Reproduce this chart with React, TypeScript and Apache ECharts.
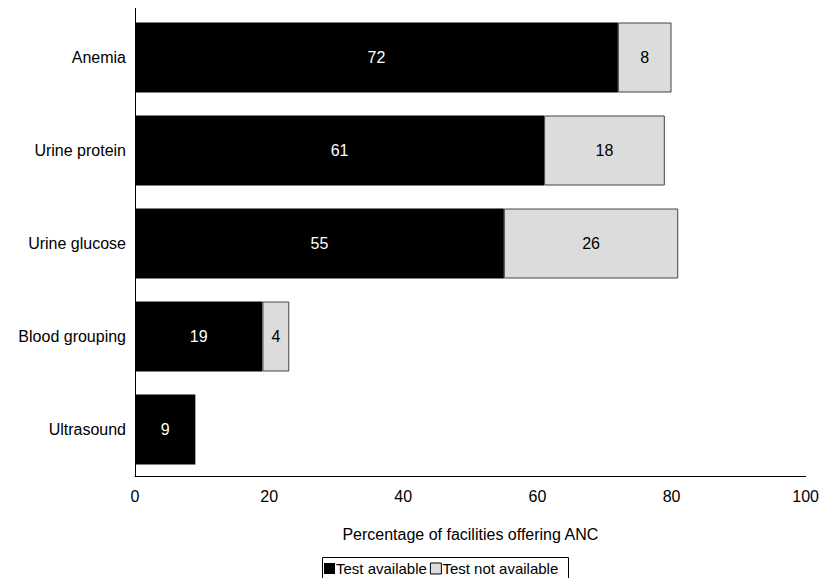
import React, { useEffect, useRef } from "react";
import * as echarts from "echarts";

const categories = ["Anemia", "Urine protein", "Urine glucose", "Blood grouping", "Ultrasound"];
const available = [72, 61, 55, 19, 9];
const notAvailable = [8, 18, 26, 4, null];
const xTicks = [0, 20, 40, 60, 80, 100];

export default function App() {
  const ref = useRef<HTMLDivElement>(null);
  useEffect(() => {
    const chart = echarts.init(ref.current!, null, { renderer: "svg" });
    const font = "Liberation Sans, Arial, sans-serif";
    const fs = 16;
    chart.setOption({
      animation: false,
      textStyle: { fontFamily: font },
      grid: { left: 135, right: 16, top: 11, bottom: 102, containLabel: false },
      xAxis: {
        type: "value",
        min: xTicks[0],
        max: xTicks[xTicks.length - 1],
        interval: 20,
        name: "Percentage of facilities offering ANC",
        nameLocation: "middle",
        nameGap: 50,
        nameTextStyle: { color: "#000", fontSize: fs, fontFamily: font },
        axisLine: { show: true, lineStyle: { color: "#000", width: 1 } },
        axisTick: { show: false },
        splitLine: { show: false },
        axisLabel: { color: "#000", fontSize: fs, margin: 12, fontFamily: font },
      },
      yAxis: {
        type: "category",
        data: categories,
        inverse: true,
        axisLine: { show: true, onZero: false, lineStyle: { color: "#000", width: 1 } },
        axisTick: { show: false },
        axisLabel: { color: "#000", fontSize: fs, margin: 9, fontFamily: font },
      },
      legend: {
        top: 560,
        left: 322,
        padding: [1, 2, 1, 2],
        itemGap: 3,
        itemWidth: 11,
        itemHeight: 11,
        textStyle: { color: "#000", fontSize: 15, fontFamily: font, padding: [0, 0, 0, -4] },
        data: [
          { name: "Test available", icon: "rect", itemStyle: { color: "#000" } },
          { name: "Test not available", icon: "rect", itemStyle: { color: "#dcdcdc", borderColor: "#000", borderWidth: 1 } },
        ],
      },
      graphic: [
        {
          type: "rect",
          shape: { x: 322.5, y: 557.5, width: 246, height: 30 },
          style: { fill: "none", stroke: "#000", lineWidth: 1 },
          silent: true,
        },
        {
          type: "line",
          shape: { x1: 135.5, y1: 8, x2: 135.5, y2: 12 },
          style: { stroke: "#000", lineWidth: 1 },
          silent: true,
        },
      ],
      series: [
        {
          name: "Test available",
          type: "bar",
          stack: "total",
          barWidth: 70,
          data: available,
          itemStyle: { color: "#000" },
          label: { show: true, position: "inside", color: "#fff", fontSize: fs, fontFamily: font },
        },
        {
          name: "Test not available",
          type: "bar",
          stack: "total",
          barWidth: 70,
          data: notAvailable,
          itemStyle: { color: "#dcdcdc", borderColor: "#444", borderWidth: 1 },
          label: { show: true, position: "inside", color: "#000", fontSize: fs, fontFamily: font },
        },
      ],
    });
    return () => chart.dispose();
  }, []);
  return <div ref={ref} style={{ width: 822, height: 578, position: "absolute", left: 0, top: 0 }} />;
}
